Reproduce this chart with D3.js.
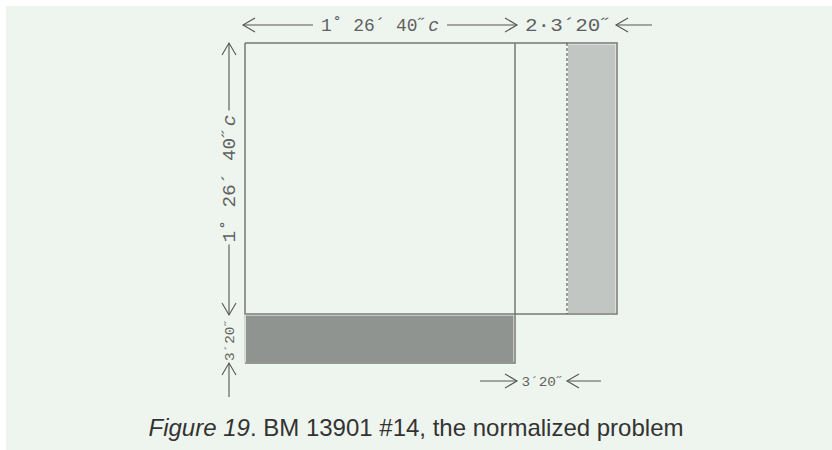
<!DOCTYPE html>
<html>
<head>
<meta charset="utf-8">
<script src="https://cdn.jsdelivr.net/npm/d3@7"></script>
<style>
  body { margin: 0; background: #fff; }
  svg { display: block; }
</style>
</head>
<body>
<div id="chart"></div>
<script>
// schematic lengths (not to scale), in strip units
const xEdges = [0, 5.4, 6.44, 7.44];   // square | gap 3'20" | moved strip 3'20"
const yEdges = [0, 5.42, 6.4];         // square | strip 3'20"
// label parts: [text, italic?]
const sideLabel = [["1˚ 26´ 40˝", false], ["c", true]];
const doubleLabel = [["2·3´20˝", false]];
const stripLabel = [["3´20˝", false]];
const caption = [["Figure 19", true], [". BM 13901 #14, the normalized problem", false]];

const width = 832, height = 450;
const ink = "#767876";

const svg = d3.select("#chart").append("svg")
    .attr("width", width)
    .attr("height", height);

svg.append("rect")
    .attr("x", 6).attr("y", 6)
    .attr("width", width - 6).attr("height", height - 6)
    .attr("fill", "#eef5ee");

const x = d3.scaleLinear().domain([0, xEdges[3]]).range([245, 617]);
const y = d3.scaleLinear().domain([0, yEdges[2]]).range([43, 363]);

const g = svg.append("g");

// light strip moved to the right
g.append("rect")
    .attr("x", x(xEdges[2]) + 0.5).attr("y", y(0) + 1)
    .attr("width", x(xEdges[3]) - x(xEdges[2]) - 1.5)
    .attr("height", y(yEdges[1]) - y(0) - 1.5)
    .attr("fill", "#c1c6c2")
    .attr("stroke", "#f6faf6").attr("stroke-width", 1);

// dark strip at the bottom
g.append("rect")
    .attr("x", x(0) + 0.5).attr("y", y(yEdges[1]) + 1)
    .attr("width", x(xEdges[1]) - x(0) - 1.5)
    .attr("height", y(yEdges[2]) - y(yEdges[1]) - 1.5)
    .attr("fill", "#8f9491")
    .attr("stroke", "#f6faf6").attr("stroke-width", 1);

// outlines
const outline = [
    [[x(0), y(0)], [x(xEdges[3]), y(0)], [x(xEdges[3]), y(yEdges[1])], [x(0), y(yEdges[1])], [x(0), y(0)]],
    [[x(xEdges[1]), y(0)], [x(xEdges[1]), y(yEdges[2])], [x(0), y(yEdges[2])]],
];
outline.forEach(pts => {
    g.append("path")
        .attr("d", d3.line()(pts))
        .attr("fill", "none")
        .attr("stroke", ink)
        .attr("stroke-width", 1.5);
});
g.append("line")
    .attr("x1", x(0)).attr("x2", x(0))
    .attr("y1", y(yEdges[1])).attr("y2", y(yEdges[2]))
    .attr("stroke", "#b8bdb9").attr("stroke-width", 1);

// dotted line: old position of the strip
g.append("line")
    .attr("x1", x(xEdges[2])).attr("x2", x(xEdges[2]))
    .attr("y1", y(0)).attr("y2", y(yEdges[1]))
    .attr("stroke", "#444").attr("stroke-width", 1)
    .attr("stroke-dasharray", "3,2");

// dimension helpers
const dim = svg.append("g").attr("stroke", "#555").attr("stroke-width", 1.1).attr("fill", "none");

function arrow(tx, ty, dx, dy) {
    // tip at (tx,ty), pointing in direction (dx,dy)
    const len = 12, spread = 7;
    const bx = tx - dx * len, by = ty - dy * len;
    const px = -dy * spread, py = dx * spread;
    dim.append("path").attr("d", d3.line()([[bx + px, by + py], [tx, ty], [bx - px, by - py]]));
}
function seg(x1, y1, x2, y2) {
    dim.append("line").attr("x1", x1).attr("y1", y1).attr("x2", x2).attr("y2", y2);
}
function label(parts, cx, cy, len, size, rotate) {
    const t = svg.append("text")
        .attr("transform", `translate(${cx},${cy})` + (rotate ? " rotate(-90)" : ""))
        .attr("text-anchor", "middle")
        .attr("dy", "0.35em")
        .attr("font-family", "'Liberation Mono', 'Courier New', monospace")
        .attr("font-size", size)
        .attr("fill", "#5f615f")
        .attr("textLength", len)
        .attr("lengthAdjust", "spacingAndGlyphs");
    parts.forEach(([s, it]) => t.append("tspan").attr("font-style", it ? "italic" : "normal").text(s));
}

// top: side of the square
const ty = 25;
const cx0 = (x(0) + x(xEdges[1])) / 2;
arrow(x(0) - 2, ty, -1, 0);
seg(x(0) - 2, ty, cx0 - 67, ty);
label(sideLabel, cx0, ty, 118, 18, false);
seg(cx0 + 67, ty, x(xEdges[1]) + 2, ty);
arrow(x(xEdges[1]) + 2, ty, 1, 0);

// top: 2·3'20"
const cx1 = (x(xEdges[1]) + x(xEdges[3])) / 2 + 3;
label(doubleLabel, cx1, ty, 88, 18, false);
arrow(x(xEdges[3]) - 1, ty, -1, 0);
seg(x(xEdges[3]) - 1, ty, x(xEdges[3]) + 35, ty);

// left: side of the square
const lx = 229;
const cy0 = (y(0) + y(yEdges[1])) / 2;
arrow(lx, y(0), 0, -1);
seg(lx, y(0), lx, cy0 - 68);
label(sideLabel, lx, cy0, 128, 18, true);
seg(lx, cy0 + 66, lx, y(yEdges[1]) + 1);
arrow(lx, y(yEdges[1]) + 1, 0, 1);

// left: strip width
const cy1 = (y(yEdges[1]) + y(yEdges[2])) / 2 + 1;
label(stripLabel, lx, cy1, 43, 13, true);
arrow(lx, y(yEdges[2]), 0, -1);
seg(lx, y(yEdges[2]), lx, y(yEdges[2]) + 34);

// bottom: the gap 3'20"
const by = 381;
seg(x(xEdges[1]) - 35, by, x(xEdges[1]) + 2, by);
arrow(x(xEdges[1]) + 2, by, 1, 0);
label(stripLabel, (x(xEdges[1]) + x(xEdges[2])) / 2 + 2, by, 43, 13, false);
arrow(x(xEdges[2]), by, -1, 0);
seg(x(xEdges[2]), by, x(xEdges[2]) + 34, by);

// caption
const cap = svg.append("text")
    .attr("x", 416).attr("y", 436)
    .attr("text-anchor", "middle")
    .attr("font-family", "'Liberation Sans', Arial, sans-serif")
    .attr("font-size", 24)
    .attr("fill", "#333");
caption.forEach(([s, it]) => cap.append("tspan").attr("font-style", it ? "italic" : "normal").text(s));
</script>
</body>
</html>
